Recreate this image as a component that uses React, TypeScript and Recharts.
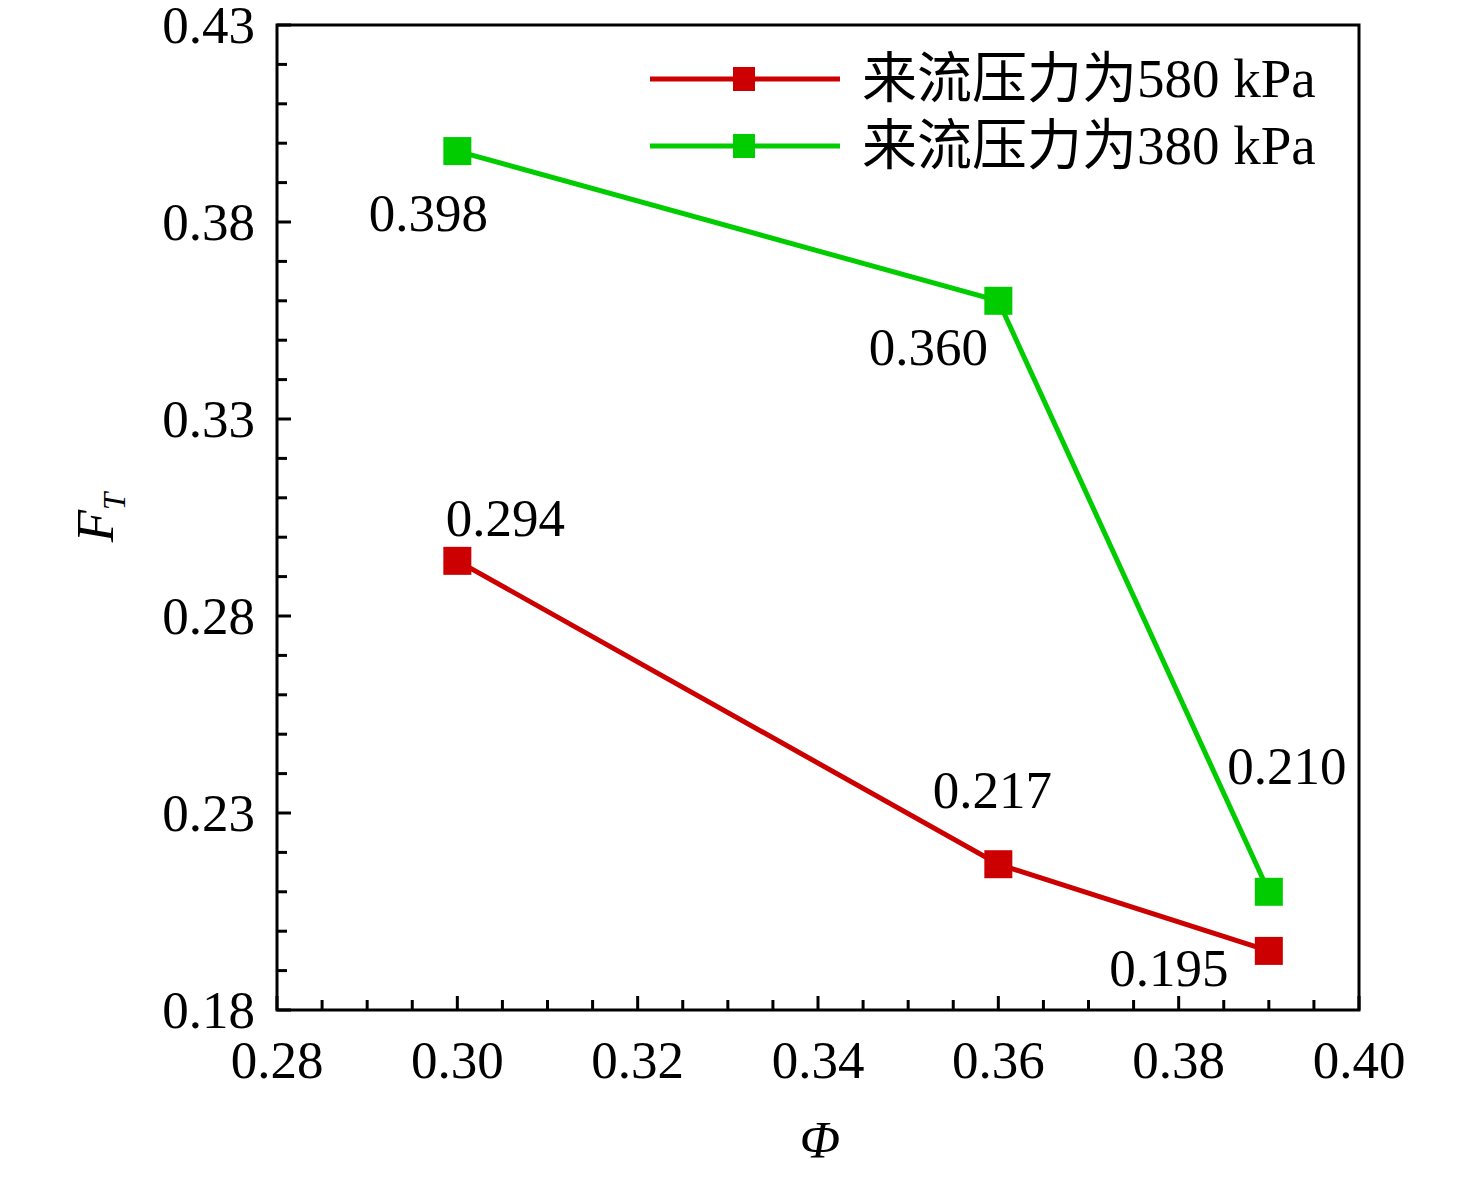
import React from 'react';
import { LineChart, Line, XAxis, YAxis, Legend, ReferenceArea, LabelList } from 'recharts';

// data
const phi = [0.3, 0.36, 0.39];
const ft580 = [0.294, 0.217, 0.195];
const ft380 = [0.398, 0.36, 0.21];
const labels580 = ['0.294', '0.217', '0.195'];
const labels380 = ['0.398', '0.360', '0.210'];

const seriesNames = ['来流压力为580 kPa', '来流压力为380 kPa'];

// axis ticks (minor + major)
const xTicks = [0.28, 0.285, 0.29, 0.295, 0.3, 0.305, 0.31, 0.315, 0.32, 0.325, 0.33, 0.335, 0.34, 0.345, 0.35, 0.355, 0.36, 0.365, 0.37, 0.375, 0.38, 0.385, 0.39, 0.395, 0.4];
const xMajor = [0.28, 0.3, 0.32, 0.34, 0.36, 0.38, 0.4];
const xMajorLabels = ['0.28', '0.30', '0.32', '0.34', '0.36', '0.38', '0.40'];
const yTicks = [0.18, 0.19, 0.2, 0.21, 0.22, 0.23, 0.24, 0.25, 0.26, 0.27, 0.28, 0.29, 0.3, 0.31, 0.32, 0.33, 0.34, 0.35, 0.36, 0.37, 0.38, 0.39, 0.4, 0.41, 0.42, 0.43];
const yMajor = [0.18, 0.23, 0.28, 0.33, 0.38, 0.43];
const yMajorLabels = ['0.18', '0.23', '0.28', '0.33', '0.38', '0.43'];

// label placement relative to each point (px)
const offsets580 = [[48, -43], [-6, -74], [-100, 17]];
const offsets380 = [[-29, 62], [-70, 46], [18, -126]];

const RED = '#cc0000';
const GREEN = '#00cc00';
const FONT = "'Liberation Serif', 'Times New Roman', 'Noto Sans CJK SC', serif";

const data = phi.map((p, i) => ({ phi: p, a: ft580[i], b: ft380[i], la: labels580[i], lb: labels380[i] }));

const majorIndex = (list: number[], v: number) => list.findIndex((m) => Math.abs(m - v) < 1e-9);

const XTick = (props: any) => {
  const { x, y, payload } = props;
  const mi = majorIndex(xMajor, payload.value);
  return (
    <g>
      <line x1={x} x2={x} y1={y} y2={y - (mi >= 0 ? 14 : 10)} stroke="#000" strokeWidth={3} />
      {mi >= 0 && (
        <text x={x} y={y + 50} textAnchor="middle" dominantBaseline="central" fontSize={53} fontFamily={FONT} fill="#000">
          {xMajorLabels[mi]}
        </text>
      )}
    </g>
  );
};

const YTick = (props: any) => {
  const { x, y, payload } = props;
  const mi = majorIndex(yMajor, payload.value);
  return (
    <g>
      <line x1={x} x2={x + (mi >= 0 ? 14 : 10)} y1={y} y2={y} stroke="#000" strokeWidth={3} />
      {mi >= 0 && (
        <text x={x - 22} y={y} textAnchor="end" dominantBaseline="central" fontSize={53} fontFamily={FONT} fill="#000">
          {yMajorLabels[mi]}
        </text>
      )}
    </g>
  );
};

const squareDot = (color: string, size: number) => (p: any) => (
  <rect key={`d-${color}-${p.index}`} x={p.cx - size / 2} y={p.cy - size / 2} width={size} height={size} fill={color} />
);

const pointLabel = (offs: number[][]) => (p: any) => {
  const o = offs[p.index] || [0, 0];
  return (
    <text key={`l-${p.index}`} x={p.x + o[0]} y={p.y + o[1]} textAnchor="middle" dominantBaseline="central" fontSize={53} fontFamily={FONT} fill="#000">
      {p.value}
    </text>
  );
};

const YLabel = (props: any) => {
  const vb = props.viewBox;
  const cx = vb.x + 36;
  const cy = vb.y + vb.height / 2;
  return (
    <text transform={`translate(${cx}, ${cy}) rotate(-90)`} textAnchor="middle" fontFamily={FONT} fill="#000">
      <tspan fontSize={53} fontStyle="italic">F</tspan>
      <tspan fontSize={31} fontStyle="italic" dy={12}>T</tspan>
    </text>
  );
};

const XLabel = (props: any) => {
  const vb = props.viewBox;
  return (
    <text x={vb.x + vb.width / 2 + 2} y={vb.y + 130} textAnchor="middle" dominantBaseline="central" fontSize={53} fontStyle="italic" fontFamily={FONT} fill="#000">
      Φ
    </text>
  );
};

const LegendContent = () => {
  const colors = [RED, GREEN];
  return (
    <div style={{ fontFamily: FONT }}>
      {seriesNames.map((name, i) => (
        <div key={name} style={{ display: 'flex', alignItems: 'center', height: 67 }}>
          <svg width={212} height={40} style={{ display: 'block' }}>
            <line x1={0} x2={190} y1={20} y2={20} stroke={colors[i]} strokeWidth={5} />
            <rect x={83} y={8} width={22} height={24} fill={colors[i]} />
          </svg>
          <span style={{ fontSize: 55, color: '#000', whiteSpace: 'nowrap', lineHeight: 1 }}>{name}</span>
        </div>
      ))}
    </div>
  );
};

const App: React.FC = () => {
  return (
    <div style={{ width: 1460, height: 1178, marginTop: -8, background: '#fff' }}>
      <LineChart width={1460} height={1178} data={data} margin={{ top: 25, right: 109, left: 69, bottom: 48 }}>
        <XAxis
          dataKey="phi"
          type="number"
          domain={[0.28, 0.4]}
          ticks={xTicks}
          interval={0}
          axisLine={false}
          tickLine={false}
          tickSize={0}
          tickMargin={0}
          tick={<XTick />}
          height={120}
          allowDataOverflow
          label={{ content: <XLabel /> }}
        />
        <YAxis
          type="number"
          domain={[0.18, 0.43]}
          ticks={yTicks}
          interval={0}
          axisLine={false}
          tickLine={false}
          tickSize={0}
          tickMargin={0}
          tick={<YTick />}
          width={200}
          allowDataOverflow
          label={{ content: <YLabel /> }}
        />
        <ReferenceArea x1={0.28} x2={0.4} y1={0.18} y2={0.43} fill="none" stroke="#000" strokeWidth={3} />
        <Legend
          layout="vertical"
          verticalAlign="middle"
          align="center"
          content={<LegendContent />}
          wrapperStyle={{ position: 'absolute', left: 642, top: 45, width: 720 }}
        />
        <Line
          type="linear"
          dataKey="a"
          name={seriesNames[0]}
          stroke={RED}
          strokeWidth={5}
          dot={squareDot(RED, 28)}
          activeDot={false}
          isAnimationActive={false}
        >
          <LabelList dataKey="la" content={pointLabel(offsets580)} />
        </Line>
        <Line
          type="linear"
          dataKey="b"
          name={seriesNames[1]}
          stroke={GREEN}
          strokeWidth={5}
          dot={squareDot(GREEN, 28)}
          activeDot={false}
          isAnimationActive={false}
        >
          <LabelList dataKey="lb" content={pointLabel(offsets380)} />
        </Line>
      </LineChart>
    </div>
  );
};

export default App;
